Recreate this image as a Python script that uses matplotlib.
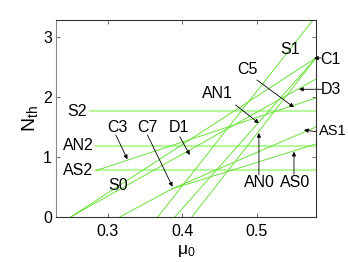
import matplotlib
matplotlib.use("Agg")
import matplotlib.pyplot as plt

plt.rcParams['font.family'] = ['Liberation Sans', 'DejaVu Sans']

# Horizontal (mu-independent) thresholds
h_names = ["S2", "AN2", "AS2"]
h_values = [1.767, 1.19, 0.775]
h_start = [0.2745, 0.283, 0.283]

# Slanted threshold lines: (mu_start, N_start, mu_end, N_end)
line_names = ["S0", "D1/D3", "C3", "C7", "AS0", "AS1", "S1", "AN1", "AN0"]
mu_a = [0.2503, 0.2503, 0.2839, 0.3161, 0.3859, 0.3859, 0.3671, 0.3899, 0.4128]
n_a = [0.0, 0.0, 0.772, 0.0, 0.467, 0.467, 0.0, 0.0, 0.0]
mu_b = [0.5792, 0.5792, 0.5792, 0.3859, 0.5792, 0.5792, 0.5752, 0.5792, 0.5792]
n_b = [2.65, 2.30, 1.983, 0.467, 1.217, 1.50, 3.283, 2.65, 2.65]

# Labels: (text, mu, N, horizontal alignment, size)
lab_text = ["S2", "AN2", "AS2", "S0", "C3", "C7", "D1", "AN1", "C5", "S1", "C1", "D3", "AS1", "AN0", "AS0"]
lab_mu = [0.2463, 0.2396, 0.2396, 0.3141, 0.3130, 0.3533, 0.3953, 0.4467, 0.4870, 0.5447, 0.5850, 0.5850, 0.5832, 0.5027, 0.5510]
lab_n = [1.758, 1.19, 0.78, 0.533, 1.49, 1.49, 1.49, 2.05, 2.455, 2.79, 2.63, 2.13, 1.43, 0.572, 0.572]
lab_ha = ["left", "left", "left", "center", "center", "center", "center", "center", "center", "center",
          "left", "left", "left", "center", "center"]
lab_size = [11.5] * 12 + [10.5, 11.5, 11.5]

# Arrows: (tail mu, tail N, tip mu, tip N)
arr_tail_mu = [0.3108, 0.3533, 0.3966, 0.4714, 0.5000, 0.5872, 0.5855, 0.5792, 0.5027, 0.5497]
arr_tail_n = [1.367, 1.367, 1.338, 1.867, 2.283, 2.128, 2.650, 1.422, 0.700, 0.711]
arr_tip_mu = [0.3264, 0.3868, 0.4100, 0.5027, 0.5497, 0.5564, 0.5765, 0.5631, 0.5027, 0.5497]
arr_tip_n = [0.962, 0.505, 1.033, 1.562, 1.828, 2.128, 2.645, 1.450, 1.400, 1.088]

fig = plt.figure(figsize=(3.48, 2.62), dpi=100)
ax = fig.add_axes([0.161, 0.1718, 0.747, 0.752])

hcol = '#b8f7a0'
lcol = '#6be03a'
for v, s in zip(h_values, h_start):
    ax.plot([s, 0.5792], [v, v], color=hcol, lw=1.6, solid_capstyle='butt', zorder=1)
for a, b, c, d in zip(mu_a, n_a, mu_b, n_b):
    ax.plot([a, c], [b, d], color=lcol, lw=0.7, zorder=2)

for t, m, n, ha, fs in zip(lab_text, lab_mu, lab_n, lab_ha, lab_size):
    ax.text(m, n, t, fontsize=fs, ha=ha, va='center', clip_on=False, zorder=5)

for tm, tn, pm, pn in zip(arr_tail_mu, arr_tail_n, arr_tip_mu, arr_tip_n):
    ax.annotate('', xy=(pm, pn), xytext=(tm, tn), annotation_clip=False,
                arrowprops=dict(arrowstyle='-|>', color='black', lw=0.6,
                                mutation_scale=6, shrinkA=0, shrinkB=0), zorder=6)

ax.set_xlim(0.2307, 0.5792)
ax.set_ylim(0, 3.283)
ax.set_xticks([0.3, 0.4, 0.5])
ax.set_xticklabels(["0.3", "0.4", "0.5"])
ax.set_yticks([0, 1, 2, 3])
ax.set_yticklabels(["0", "1", "2", "3"])
ax.tick_params(direction='in', length=3, width=0.6, top=True, right=True,
               labelsize=11.5, colors='#555555', labelcolor='black')
ax.tick_params(axis='x', pad=5)
ax.tick_params(axis='y', pad=3)
for sp in ax.spines.values():
    sp.set_linewidth(0.8)
    sp.set_color('#333333')
ax.spines['left'].set_color('#888888')

ax.set_xlabel(r'$\mathregular{\mu_0}$', fontsize=12.5, labelpad=3)
ax.set_ylabel(r'$\mathregular{N_{th}}$', fontsize=14, labelpad=2)

fig.savefig('out.png', dpi=100)
